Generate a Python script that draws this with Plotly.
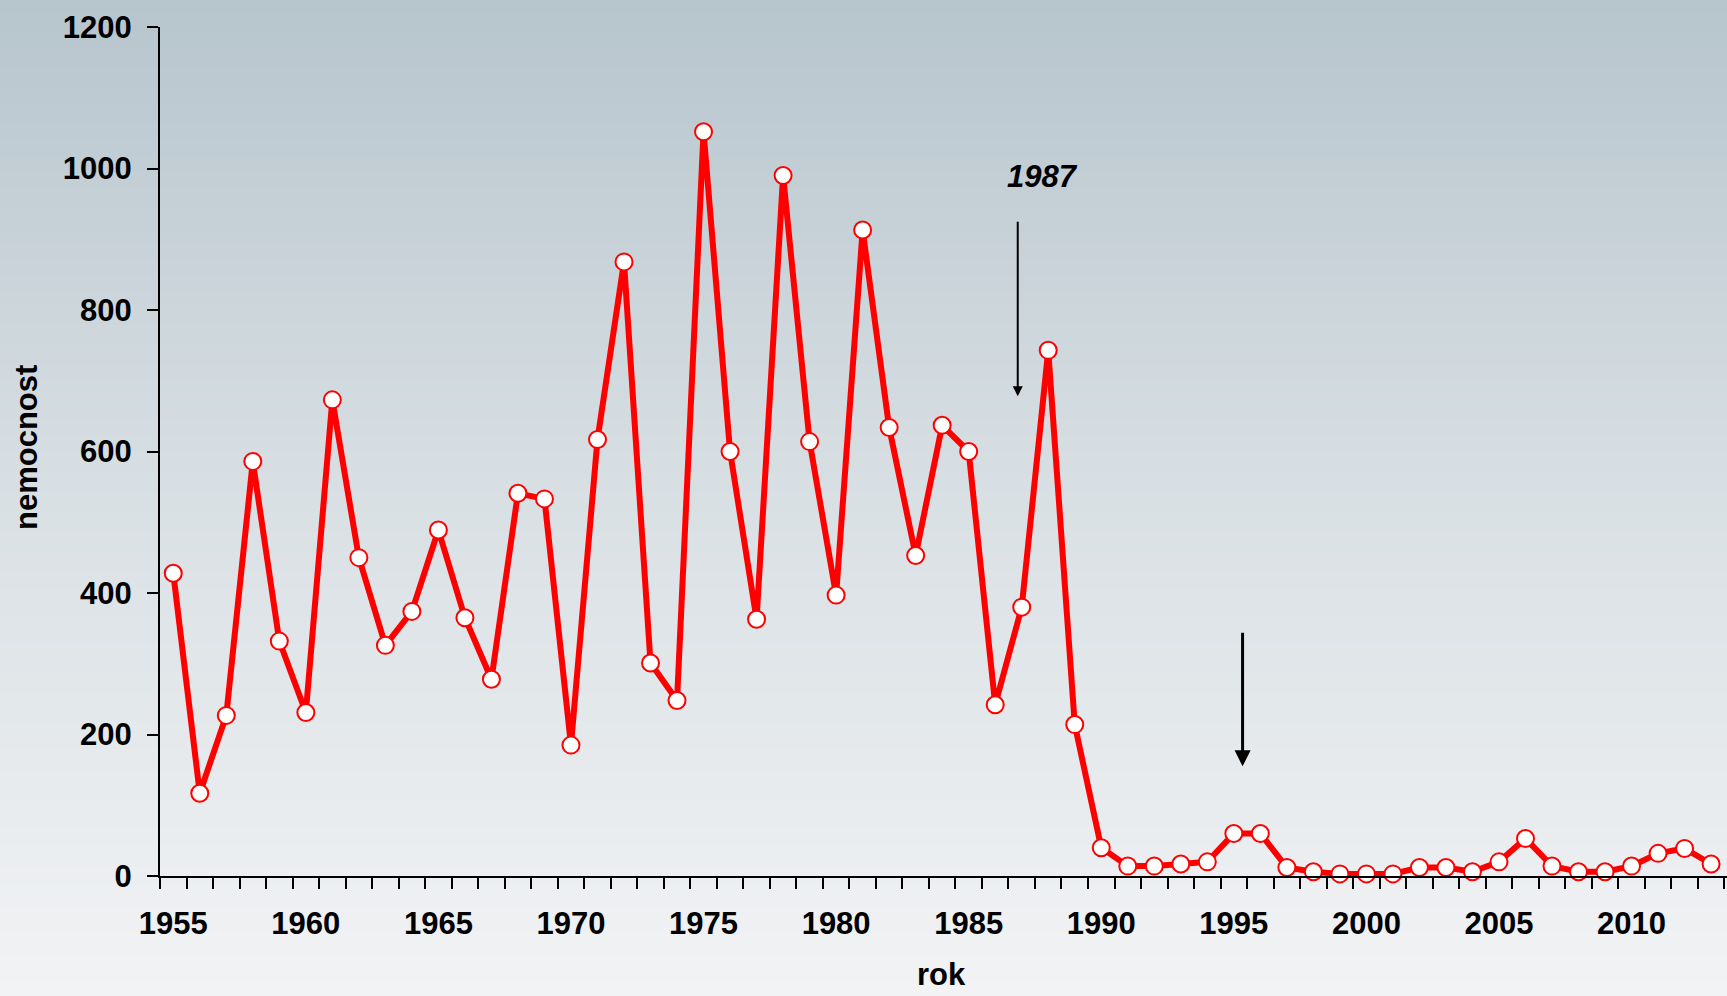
import zlib, struct, base64
import plotly.graph_objects as go

years = list(range(1955, 2014))
nemocnost = [428, 117, 227, 586, 332, 231, 673, 450, 326, 374,
             489, 365, 278, 541, 533, 185, 617, 868, 301, 248,
             1052, 600, 363, 990, 614, 397, 913, 634, 453, 637,
             600, 242, 380, 743, 214, 40, 14, 14, 17, 20,
             60, 60, 12, 6, 3, 3, 3, 12, 12, 6,
             20, 53, 14, 6, 6, 14, 32, 39, 17]
y_ticks = [0, 200, 400, 600, 800, 1000, 1200]
x_ticks = [1955, 1960, 1965, 1970, 1975, 1980, 1985, 1990, 1995, 2000, 2005, 2010]

W, H = 1727, 996
PL, PT, PB = 160, 27, 876   # plot area left, top, bottom in page pixels

# vertical gradient background as a tiny PNG
def gradient_png(h, stops):
    rows = b""
    for i in range(h):
        t = i / (h - 1)
        for k in range(len(stops) - 1):
            t0, c0 = stops[k]
            t1, c1 = stops[k + 1]
            if t0 <= t <= t1:
                f = (t - t0) / (t1 - t0) if t1 > t0 else 0
                c = [round(c0[j] + (c1[j] - c0[j]) * f) for j in range(3)]
                break
        rows += b"\x00" + bytes(c)
    def chunk(tag, data):
        return struct.pack(">I", len(data)) + tag + data + struct.pack(">I", zlib.crc32(tag + data) & 0xffffffff)
    png = b"\x89PNG\r\n\x1a\n"
    png += chunk(b"IHDR", struct.pack(">IIBBBBB", 1, h, 8, 2, 0, 0, 0))
    png += chunk(b"IDAT", zlib.compress(rows))
    png += chunk(b"IEND", b"")
    return "data:image/png;base64," + base64.b64encode(png).decode()

bg = gradient_png(256, [(0.0, (183, 197, 205)), (0.5, (217, 224, 228)), (1.0, (242, 243, 245))])

FONT = "Liberation Sans, Arial, sans-serif"

def px(x):
    return x / W

def py(y):
    return 1 - y / H

fig = go.Figure()
fig.add_trace(go.Scatter(
    x=years, y=nemocnost, mode="lines+markers",
    line=dict(color="#ff0000", width=6),
    marker=dict(size=17, color="white", line=dict(color="#ff0000", width=2)),
    cliponaxis=False, showlegend=False,
))

fig.update_layout(
    width=W, height=H,
    margin=dict(l=0, r=0, t=0, b=0, autoexpand=False),
    paper_bgcolor="rgba(0,0,0,0)",
    plot_bgcolor="rgba(0,0,0,0)",
    images=[dict(source=bg, xref="paper", yref="paper", x=0, y=1,
                 sizex=1, sizey=1, sizing="stretch", layer="below",
                 xanchor="left", yanchor="top")],
    xaxis=dict(
        domain=[px(PL), 1], range=[1954.5, 2013.6], automargin=False,
        showgrid=False, zeroline=False,
        showline=True, linecolor="black", linewidth=2,
        tickvals=x_ticks, ticks="", ticklabelstandoff=19,
        tickfont=dict(family=FONT, size=31, color="black", weight="bold"),
        minor=dict(tick0=1954.5, dtick=1, ticks="outside", ticklen=11, tickwidth=2, tickcolor="black"),
    ),
    yaxis=dict(
        domain=[py(PB), py(PT)], range=[0, 1200], automargin=False,
        showgrid=False, zeroline=False,
        showline=True, linecolor="black", linewidth=2,
        tickvals=y_ticks, ticks="outside", ticklen=11, tickwidth=2, tickcolor="black",
        ticklabelstandoff=9,
        tickfont=dict(family=FONT, size=31, color="black", weight="bold"),
    ),
    annotations=[
        dict(text="nemocnost", xref="paper", yref="paper", x=px(26), y=py(448),
             textangle=-90, showarrow=False, xanchor="center", yanchor="middle",
             font=dict(family=FONT, size=31, color="black", weight="bold")),
        dict(text="rok", xref="paper", yref="paper", x=px(942), y=py(994),
             showarrow=False, xanchor="center", yanchor="bottom",
             font=dict(family=FONT, size=31, color="black", weight="bold")),
        dict(text="1987", x=1987.8, y=989, xref="x", yref="y", showarrow=False,
             font=dict(family=FONT, size=31, color="black", weight="bold", style="italic")),
        dict(text="", x=1986.85, y=678, ax=1986.85, ay=927, xref="x", yref="y", axref="x", ayref="y",
             showarrow=True, arrowhead=2, arrowsize=1, arrowwidth=2, arrowcolor="black", standoff=0),
        dict(text="", x=1995.33, y=155, ax=1995.33, ay=346, xref="x", yref="y", axref="x", ayref="y",
             showarrow=True, arrowhead=2, arrowsize=1.07, arrowwidth=3, arrowcolor="black", standoff=0),
    ],
)

fig.write_html("out.html", config={"displayModeBar": False},
               post_script="document.body.style.margin='0';document.body.style.overflow='hidden';")
